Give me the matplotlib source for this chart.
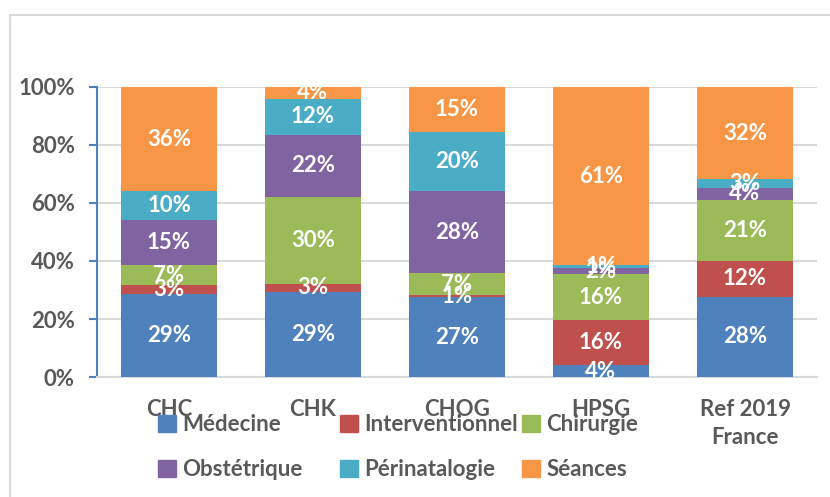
import matplotlib
matplotlib.use("Agg")
import numpy as np
import matplotlib.pyplot as plt
from matplotlib.patches import Patch, Rectangle

plt.rcParams["font.family"] = ["Lato", "DejaVu Sans"]
plt.rcParams["font.weight"] = "bold"

categories = ["CHC", "CHK", "CHOG", "HPSG", "Ref 2019\nFrance"]
series_names = ["Médecine", "Interventionnel", "Chirurgie",
                "Obstétrique", "Périnatalogie", "Séances"]

# share of each activity per site (%), bottom to top
medecine = [28.6, 29.4, 27.45, 4.1, 27.7]
interventionnel = [3.0, 2.8, 0.9, 15.5, 12.3]
chirurgie = [7.1, 29.9, 7.4, 15.8, 21.0]
obstetrique = [15.3, 21.5, 28.4, 2.3, 4.3]
perinatalogie = [10.1, 12.3, 20.4, 0.9, 2.9]
seances = [35.9, 4.1, 15.4, 61.4, 31.8]

series = [medecine, interventionnel, chirurgie, obstetrique, perinatalogie, seances]
colors = ["#4F81BD", "#C0504D", "#9BBB59", "#8064A2", "#4BACC6", "#F79646"]

text_gray = "#595959"
fs = 16

fig = plt.figure(figsize=(8.3, 4.97), dpi=100)
W, H = 830, 497
# light chart border (only top and left visible in the source)
fig.patches.append(Rectangle((10 / W, -0.1), 1.2, 1 - 15 / H + 0.1, transform=fig.transFigure,
                             fill=False, edgecolor="#D9D9D9", linewidth=1.5))

ax = fig.add_axes([97 / W, 1 - 377 / H, 720 / W, 290 / H])
x = np.arange(len(categories))
bottom = np.zeros(len(categories))
for vals, name, col in zip(series, series_names, colors):
    vals = np.array(vals)
    bars = ax.bar(x, vals, 0.667, bottom=bottom, color=col, label=name, zorder=3)
    labels = [f"{round(v):.0f}%" for v in vals]
    texts = ax.bar_label(bars, labels=labels, label_type="center", color="white",
                         fontsize=fs, fontweight="bold")
    for t in texts:
        t.set_clip_on(True)
        t.set_zorder(5)
    bottom += vals

ax.set_xlim(-0.5, len(categories) - 0.5)
ax.set_ylim(0, 100)
ax.set_yticks(range(0, 101, 20))
ax.set_yticklabels([f"{v}%" for v in range(0, 101, 20)], fontsize=fs, color=text_gray)
ax.set_xticks(x)
ax.set_xticklabels(categories, fontsize=fs, color=text_gray, linespacing=1.4)
ax.tick_params(axis="x", length=0, pad=16)
ax.tick_params(axis="y", length=6, width=1.5, color="#4F81BD", pad=10)
ax.yaxis.grid(True, color="#D9D9D9", linewidth=1.5, zorder=0)
ax.set_axisbelow(True)
for s in ["top", "right"]:
    ax.spines[s].set_visible(False)
ax.spines["left"].set_color("#4F81BD")
ax.spines["left"].set_linewidth(1.5)
ax.spines["bottom"].set_color("#D9D9D9")
ax.spines["bottom"].set_linewidth(1.5)

# legend: three equal-width columns, two rows
col_x = [158, 340, 522]
for i, cx in enumerate(col_x):
    handles = [Patch(color=colors[i]), Patch(color=colors[i + 3])]
    leg = fig.legend(handles, [series_names[i], series_names[i + 3]],
                     loc="upper left", bbox_to_anchor=(cx / W, 1 - 414 / H),
                     frameon=False, fontsize=fs, handlelength=0.8, handleheight=0.8,
                     handletextpad=0.3, labelspacing=1.1, borderpad=0, borderaxespad=0)
    for t in leg.get_texts():
        t.set_color(text_gray)

fig.savefig("out.png", dpi=100)
